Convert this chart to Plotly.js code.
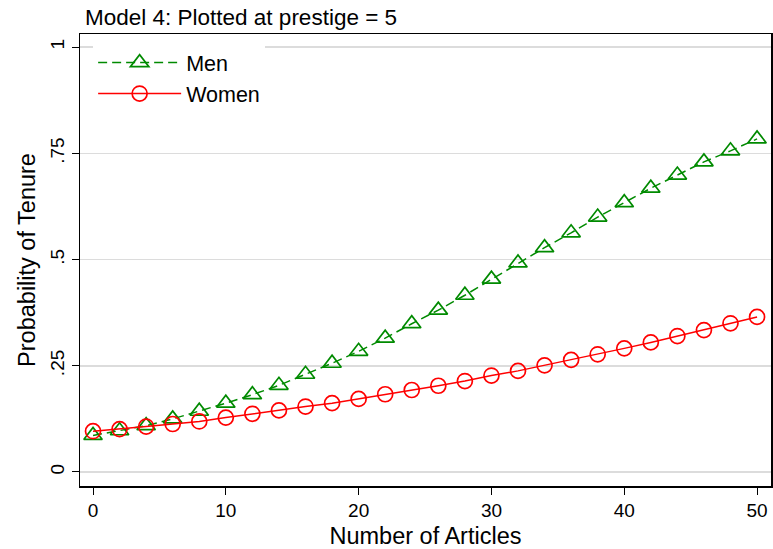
<!DOCTYPE html>
<html>
<head>
<meta charset="utf-8">
<script src="https://cdn.plot.ly/plotly-3.0.1.min.js"></script>
<style>html,body{margin:0;padding:0;background:#fff;}#chart{width:773px;height:549px;}</style>
</head>
<body>
<div id="chart"></div>
<script>
const articles = [0,2,4,6,8,10,12,14,16,18,20,22,24,26,28,30,32,34,36,38,40,42,44,46,48,50];
const men = [0.086,0.097,0.109,0.125,0.143,0.162,0.182,0.204,0.230,0.256,0.284,0.315,0.349,0.381,0.416,0.454,0.492,0.528,0.563,0.600,0.634,0.668,0.699,0.730,0.756,0.784];
const women = [0.096,0.101,0.107,0.113,0.119,0.128,0.137,0.145,0.154,0.162,0.172,0.183,0.193,0.203,0.214,0.227,0.238,0.251,0.264,0.277,0.291,0.305,0.320,0.334,0.350,0.365];
const yTickVals = [0,0.25,0.5,0.75,1];
const yTickText = ["0",".25",".5",".75","1"];
const xTickVals = [0,10,20,30,40,50];

const traces = [
  {x: articles, y: men, name: "Men", type: "scatter", mode: "lines+markers",
   line: {color: "#008a00", width: 1.5, dash: "9px,5px"},
   marker: {symbol: "triangle-up-open", size: 16, color: "#008a00", line: {width: 1.7, color: "#008a00"}}},
  {x: articles, y: women, name: "Women", type: "scatter", mode: "lines+markers",
   line: {color: "#ff0000", width: 1.5},
   marker: {symbol: "circle-open", size: 15, color: "#ff0000", line: {width: 1.7, color: "#ff0000"}}}
];

const layout = {
  width: 773, height: 549,
  margin: {l: 80, r: 2, t: 34, b: 63},
  paper_bgcolor: "#fff", plot_bgcolor: "#fff",
  font: {family: "Arial, Liberation Sans, sans-serif", color: "#000", size: 19},
  title: {text: "Model 4: Plotted at prestige = 5", x: 0, xref: "paper", xanchor: "left", y: 0.968, yanchor: "middle",
          font: {size: 22.5, color: "#000"}, pad: {l: 5}},
  xaxis: {range: [-0.98, 51.05], tickvals: xTickVals, ticks: "outside", ticklen: 7, tickwidth: 1, tickcolor: "#000",
          showgrid: false, zeroline: false, showline: true, linecolor: "#000", linewidth: 1.5, mirror: true,
          tickfont: {size: 19}, title: {text: "Number of Articles", font: {size: 23.5}, standoff: 9}},
  yaxis: {range: [-0.033, 1.031], tickvals: yTickVals, ticktext: yTickText, tickangle: -90,
          ticks: "outside", ticklen: 7, tickwidth: 1, tickcolor: "#000",
          showgrid: true, gridcolor: "#dcdcdc", gridwidth: 1.5, zeroline: false,
          showline: true, linecolor: "#000", linewidth: 1.5, mirror: true,
          tickfont: {size: 19}, title: {text: "Probability of Tenure", font: {size: 23.5}, standoff: 4}},
  legend: {x: 0.019, y: 0.982, xanchor: "left", yanchor: "top", bgcolor: "#fff", borderwidth: 0,
           font: {size: 21.5}, itemwidth: 83},
  showlegend: true
};

Plotly.newPlot("chart", traces, layout, {displayModeBar: false, staticPlot: true});
</script>
</body>
</html>
